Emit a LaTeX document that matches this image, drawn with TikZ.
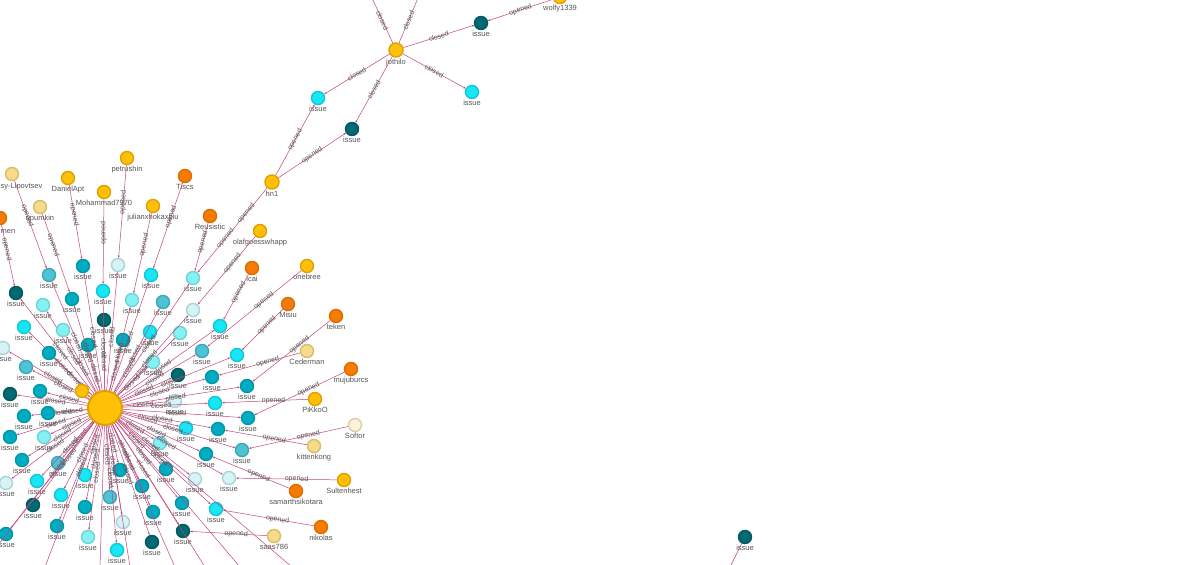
\documentclass[tikz,border=0pt]{standalone}
\usepackage{fontspec}
\setmainfont{Liberation Sans}
\usetikzlibrary{arrows.meta,positioning}
\definecolor{eg}{HTML}{C2457A}
\definecolor{tx}{HTML}{555555}
\definecolor{HTML00ACC1}{HTML}{00ACC1}\definecolor{HTML0097A7}{HTML}{0097A7}
\definecolor{HTML4FC3D4}{HTML}{4FC3D4}\definecolor{HTML3AA8B8}{HTML}{3AA8B8}
\definecolor{HTML006A73}{HTML}{006A73}\definecolor{HTML005A60}{HTML}{005A60}
\definecolor{HTMLD8F3F5}{HTML}{D8F3F5}\definecolor{HTMLA6D6DC}{HTML}{A6D6DC}
\definecolor{HTML84F2F2}{HTML}{84F2F2}\definecolor{HTML6FD3D8}{HTML}{6FD3D8}
\definecolor{HTMLF57C00}{HTML}{F57C00}\definecolor{HTMLE06A00}{HTML}{E06A00}
\definecolor{HTMLFFC107}{HTML}{FFC107}\definecolor{HTMLE0A000}{HTML}{E0A000}
\definecolor{HTMLF5DC8A}{HTML}{F5DC8A}\definecolor{HTMLD9BD6A}{HTML}{D9BD6A}
\definecolor{HTMLFBF3DC}{HTML}{FBF3DC}\definecolor{HTMLDCCFA8}{HTML}{DCCFA8}
\definecolor{HTMLBRI}{HTML}{18E6F5}\definecolor{HTMLBRD}{HTML}{10C8D8}
\begin{document}
\begin{tikzpicture}[x=1pt,y=-1pt,
 nd/.style={circle,minimum size=13pt,inner sep=0pt,line width=1.4pt},
 bright/.style={nd,fill=HTMLBRI,draw=HTMLBRD},
 teal/.style={nd,fill=HTML00ACC1,draw=HTML0097A7},
 mid/.style={nd,fill=HTML4FC3D4,draw=HTML3AA8B8},
 dark/.style={nd,fill=HTML006A73,draw=HTML005A60},
 pale/.style={nd,fill=HTMLD8F3F5,draw=HTMLA6D6DC},
 light/.style={nd,fill=HTML84F2F2,draw=HTML6FD3D8},
 orange/.style={nd,fill=HTMLF57C00,draw=HTMLE06A00},
 yellow/.style={nd,fill=HTMLFFC107,draw=HTMLE0A000},
 tan/.style={nd,fill=HTMLF5DC8A,draw=HTMLD9BD6A},
 paletan/.style={nd,fill=HTMLFBF3DC,draw=HTMLDCCFA8},
 lbl/.style={font=\fontsize{7.5}{8}\selectfont,text=tx,inner sep=0.5pt},
 el/.style={font=\fontsize{7}{7}\selectfont,text=tx,sloped,inner sep=0.5pt},
 ed/.style={draw=eg,line width=0.5pt,-{Stealth[length=2.5pt,width=2pt]}},
 ln/.style={draw=eg,line width=0.5pt},
]
\useasboundingbox (0,0) rectangle (1200,565);
\fill[white] (0,0) rectangle (1200,565);
\node[yellow,minimum size=34pt,line width=2pt] (h) at (105,408) {};
\foreach \x/\y/\c [count=\n] in {
 43/305/light,
 104/320/dark,24/327/bright,63/330/light,88/345/teal,123/340/teal,
 150/332/bright,180/333/light,3/348/pale,49/353/teal,153/362/light,178/375/dark,26/367/mid,
 40/391/teal,10/394/dark,24/416/teal,48/413/teal,175/401/pale,186/428/bright,44/437/light,
 10/437/teal,22/460/teal,58/463/mid,37/481/bright,6/483/pale,61/495/bright,33/505/dark,
 85/475/bright,120/470/teal,142/486/teal,160/443/light,166/469/teal,195/479/pale,110/497/mid,
 85/507/teal,57/526/teal,6/534/teal,88/537/light,123/522/pale,153/512/teal,117/550/bright,
 152/542/dark,182/503/teal,163/302/mid}
{
 \node[\c] (i\n) at (\x,\y) {};
 \node[lbl,below=0.5pt of i\n] {issue};
 \draw[ed] (h) -- node[el,pos=0.45]{closed} (i\n);
}
\node[yellow,minimum size=13pt] (ys) at (82,391) {};
\draw[ed] (h) -- (ys);
\foreach \ux/\uy/\un/\uc/\ix/\iy/\ic [count=\n] in {
 185/176/Tiscs/orange/151/275/bright,
 210/216/Reusistic/orange/193/278/light,
 260/231/olafgoesswhapp/yellow/193/310/pale,
 252/268/icai/orange/220/326/bright,
 307/266/onebree/yellow/202/351/mid,
 288/304/Misiu/orange/237/355/bright,
 336/316/teken/orange/247/386/teal,
 307/351/Cederman/tan/212/377/teal,
 351/369/mujuburcs/orange/248/418/teal,
 315/399/PiKkoO/yellow/215/403/bright,
 355/425/Softor/paletan/242/450/mid,
 314/446/kittenkong/tan/218/429/teal,
 344/480/Sultenhest/yellow/229/478/pale,
 296/491/samarthsikotara/orange/206/454/teal,
 321/527/nikolas/orange/216/509/bright,
 274/536/saas786/tan/183/531/dark,
 68/178/DanielApt/yellow/83/266/teal,
 127/158/petrushin/yellow/118/265/pale,
 104/192/Mohammad7970/yellow/103/291/bright,
 40/207/upumkin/tan/72/299/teal,
 153/206/julianxhokaxhiu/yellow/132/300/light,
 12/174/{}/tan/49/275/mid,
 0/218/{}/orange/16/293/dark}
{
 \node[\uc] (u\n) at (\ux,\uy) {};
 \node[lbl,below=0.5pt of u\n] {\un};
 \node[\ic] (c\n) at (\ix,\iy) {};
 \node[lbl,below=0.5pt of c\n] {issue};
 \draw[ed] (u\n) -- node[el,pos=0.4]{opened} (c\n);
 \draw[ed] (h) -- node[el,pos=0.45]{closed} (c\n);
}
\node[lbl,anchor=west] at (0,187) {sy-Lipovtsev};
\node[lbl,anchor=west] at (0,232) {men};
\node[yellow,minimum size=14pt] (hn) at (272,182) {};
\node[lbl,below=0.5pt of hn] {hn1};
\node[yellow,minimum size=14pt] (jo) at (396,50) {};
\node[lbl,below=0.5pt of jo] {jothilo};
\node[bright] (j1) at (318,98) {}; \node[lbl,below=0.5pt of j1] {issue};
\node[dark] (j2) at (352,129) {}; \node[lbl,below=0.5pt of j2] {issue};
\node[dark] (j3) at (481,23) {}; \node[lbl,below=0.5pt of j3] {issue};
\node[bright] (j4) at (472,92) {}; \node[lbl,below=0.5pt of j4] {issue};
\node[yellow] (wo) at (560,-3) {}; \node[lbl] (wl) at (560,9) {wolfy1339};
\coordinate (t1) at (372,-2); \coordinate (t2) at (418,-2);
\draw[ed] (hn) -- node[el]{opened} (j1);
\draw[ed] (hn) -- node[el]{opened} (j2);
\draw[ed] (hn) -- node[el,pos=0.3]{opened} node[el,pos=0.6]{opened} (c2);
\draw[ed] (jo) -- node[el]{closed} (j1);
\draw[ed] (jo) -- node[el]{closed} (j2);
\draw[ed] (jo) -- node[el]{closed} (j3);
\draw[ed] (jo) -- node[el]{closed} (j4);
\draw[ed] (wo) -- node[el]{opened} (j3);
\draw[ln] (jo) -- node[el]{closed} (t1);
\draw[ln] (jo) -- node[el]{closed} (t2);
\foreach \x/\y [count=\n] in {45/567,100/567,130/567,175/567,205/567,240/567,292/567,-2/545}
{ \coordinate (o\n) at (\x,\y); \draw[ln] (h) -- (o\n); }
\node[dark] (lo) at (745,537) {}; \node[lbl,below=0.5pt of lo] {issue};
\coordinate (lc) at (730,567);
\draw[ln] (lo) -- (lc);
\end{tikzpicture}
\end{document}
